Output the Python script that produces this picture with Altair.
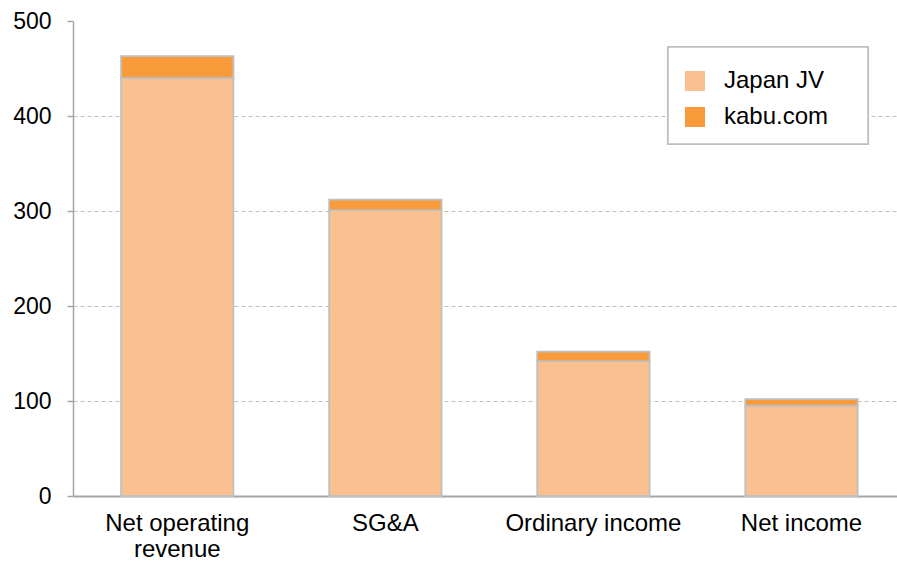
import altair as alt
import pandas as pd

categories = ["Net operating revenue", "SG&A", "Ordinary income", "Net income"]
japan_jv = [440, 301, 142, 95]
kabu_com = [23, 11, 10, 7]
series_names = ["Japan JV", "kabu.com"]
y_ticks = [0, 100, 200, 300, 400, 500]

rows = []
for c, a, b in zip(categories, japan_jv, kabu_com):
    rows.append({"category": c, "series": series_names[0], "value": a, "order": 0})
    rows.append({"category": c, "series": series_names[1], "value": b, "order": 1})
df = pd.DataFrame(rows)

font = "Liberation Sans"

bars = alt.Chart(df).mark_bar(stroke="#BFBFBF", strokeWidth=1.8).encode(
    x=alt.X(
        "category:N",
        sort=categories,
        title=None,
        scale=alt.Scale(paddingInner=0.46, paddingOuter=0.21, align=0.55),
        axis=alt.Axis(
            labelAngle=0,
            labelFontSize=24,
            labelFont=font,
            labelColor="#000000",
            labelPadding=15,
            labelLineHeight=26,
            ticks=False,
            domainColor="#A6A6A6",
            domainWidth=2,
            labelExpr="datum.label == 'Net operating revenue' ? ['Net operating', 'revenue'] : datum.label",
        ),
    ),
    y=alt.Y(
        "value:Q",
        stack="zero",
        title=None,
        scale=alt.Scale(domain=[0, 500], nice=False),
        axis=alt.Axis(
            values=y_ticks,
            labelFontSize=23,
            labelFont=font,
            labelColor="#000000",
            labelPadding=16,
            tickSize=6,
            tickColor="#A6A6A6",
            tickWidth=1.5,
            domainColor="#A6A6A6",
            domainWidth=1.5,
            gridColor="#BFBFBF",
            gridDash=[4, 3],
            gridWidth=1,
            gridOpacity={"condition": {"test": "datum.value >= 500 || datum.value <= 0", "value": 0}, "value": 1},
        ),
    ),
    color=alt.Color(
        "series:N",
        sort=series_names,
        scale=alt.Scale(domain=series_names, range=["#FAC090", "#F99B3A"]),
        legend=alt.Legend(
            title=None,
            orient="none",
            legendX=600,
            legendY=38,
            labelFontSize=24,
            labelFont=font,
            labelColor="#000000",
            symbolType="square",
            symbolSize=400,
            symbolStrokeWidth=0,
            rowPadding=12,
            labelOffset=17,
            padding=10,
        ),
    ),
    order=alt.Order("order:Q", sort="ascending"),
)

legend_box = alt.Chart(df).mark_rect(fill="#FFFFFF", stroke="#BFBFBF", strokeWidth=1.5).encode(
    x=alt.value(595), x2=alt.value(795), y=alt.value(26), y2=alt.value(123)
)

chart = alt.layer(bars, legend_box).properties(
    width=824,
    height=475,
    padding={"left": 73, "top": 21, "right": 0, "bottom": 67},
    autosize=alt.AutoSizeParams(type="none"),
).configure_view(stroke=None).configure_axisX(grid=False)

chart.save("out.html", embed_options={"renderer": "svg", "actions": False})
